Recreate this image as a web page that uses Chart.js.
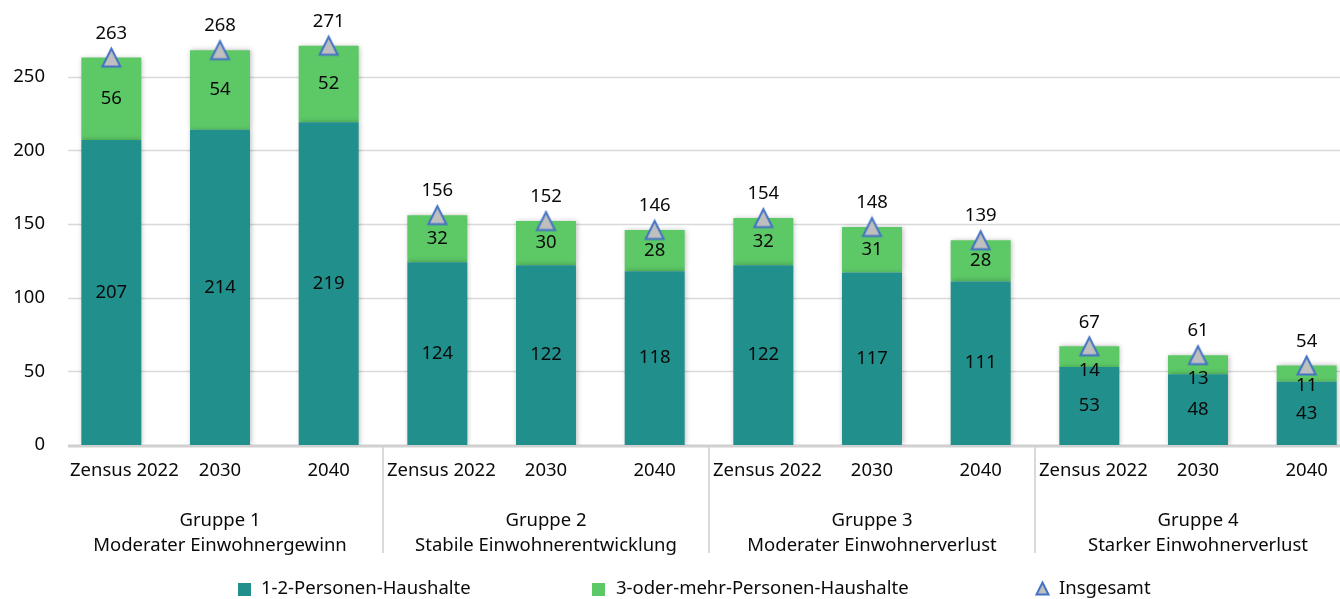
<!DOCTYPE html>
<html>
<head>
<meta charset="utf-8">
<script src="https://cdn.jsdelivr.net/npm/chart.js@4"></script>
<style>
  html, body { margin: 0; padding: 0; background: #fff; overflow: hidden; }
  #wrap { width: 1362px; height: 599px; overflow: hidden; }
  canvas { display: block; }
</style>
</head>
<body>
<div id="wrap"><canvas id="haushalte" width="1362" height="599"></canvas></div>
<script>
// Data
const categories = ["Zensus 2022", "2030", "2040", "Zensus 2022", "2030", "2040",
                    "Zensus 2022", "2030", "2040", "Zensus 2022", "2030", "2040"];
const groups = [
    ["Gruppe 1", "Moderater Einwohnergewinn"],
    ["Gruppe 2", "Stabile Einwohnerentwicklung"],
    ["Gruppe 3", "Moderater Einwohnerverlust"],
    ["Gruppe 4", "Starker Einwohnerverlust"]
];
const smallHouseholds = [207, 214, 219, 124, 122, 118, 122, 117, 111, 53, 48, 43]; // 1-2 Personen
const largeHouseholds = [56, 54, 52, 32, 30, 28, 32, 31, 28, 14, 13, 11];         // 3+ Personen
const totals = [263, 268, 271, 156, 152, 146, 154, 148, 139, 67, 61, 54];
const yTicks = [0, 50, 100, 150, 200, 250];

const TEAL = "#218F8B";
const GREEN = "#5CC866";
const FONT = "18.5px 'Noto Sans'";
const TEXT = "#0a0a0a";
const GRID = "#d9d9d9";

// triangle marker, centred on its bounding box like the original
function makeTriangle(size) {
    let c = document.createElement("canvas");
    c.width = size; c.height = size;
    let g = c.getContext("2d");
    let pad = 2.5;
    g.beginPath();
    g.moveTo(size / 2, pad);
    g.lineTo(size - pad, size - pad);
    g.lineTo(pad, size - pad);
    g.closePath();
    g.fillStyle = "#BFBFBF";
    g.fill();
    g.lineWidth = 2;
    g.strokeStyle = "#4472C4";
    g.lineJoin = "miter";
    g.stroke();
    return c;
}
const triangleMarker = makeTriangle(23);
const triangleLegend = makeTriangle(17);

// grid lines, zero axis and bar shadows
const backgroundPlugin = {
    id: "background",
    beforeDatasetsDraw(chart) {
        let ctx = chart.ctx;
        let y = chart.scales.y;
        ctx.save();
        ctx.strokeStyle = GRID;
        ctx.lineWidth = 1.5;
        yTicks.forEach(v => {
            if (v === 0) return;
            let py = Math.round(y.getPixelForValue(v)) + 0.5;
            ctx.beginPath();
            ctx.moveTo(68, py);
            ctx.lineTo(chart.width, py);
            ctx.stroke();
        });
        ctx.lineWidth = 3;
        ctx.strokeStyle = "#d0d0d0";
        let zy = y.getPixelForValue(0) + 1;
        ctx.beginPath();
        ctx.moveTo(68, zy);
        ctx.lineTo(chart.width, zy);
        ctx.stroke();
        ctx.restore();
    },
    beforeDatasetDraw(chart, args) {
        chart.ctx.save();
        if (args.meta.type === "bar") {
            chart.ctx.shadowColor = "rgba(0,0,0,0.28)";
            chart.ctx.shadowBlur = 5;
            chart.ctx.shadowOffsetX = 1;
        }
    },
    afterDatasetDraw(chart) {
        chart.ctx.restore();
    }
};

// value labels, axis texts, group separators, legend
const labelPlugin = {
    id: "labels",
    afterDraw(chart) {
        let ctx = chart.ctx;
        let yScale = chart.scales.y;
        let bars0 = chart.getDatasetMeta(0).data;
        let bars1 = chart.getDatasetMeta(1).data;
        let points = chart.getDatasetMeta(2).data;
        ctx.save();
        ctx.font = FONT;
        ctx.fillStyle = TEXT;
        ctx.textBaseline = "middle";

        // y tick labels
        ctx.textAlign = "right";
        yTicks.forEach(v => ctx.fillText(String(v), 45, yScale.getPixelForValue(v)));

        // bar values
        ctx.textAlign = "center";
        bars0.forEach((b, i) => {
            ctx.fillText(String(smallHouseholds[i]), b.x, (b.y + b.base) / 2);
        });
        bars1.forEach((b, i) => {
            let h = b.base - b.y;
            let ly = h < 30 ? b.base + 4 : (b.y + b.base) / 2;
            ctx.fillText(String(largeHouseholds[i]), b.x, ly);
        });
        points.forEach((p, i) => {
            ctx.fillText(String(totals[i]), p.x, p.y - 24);
        });

        // category labels
        let catW = bars0.length > 1 ? bars0[1].x - bars0[0].x : 100;
        categories.forEach((c, i) => {
            let x = bars0[i].x;
            let w = ctx.measureText(c).width;
            if (w > catW - 4) {
                let left = Math.max(x - catW / 2, 66) + 4;
                ctx.textAlign = "left";
                ctx.fillText(c, left, 471);
            } else {
                ctx.textAlign = "center";
                ctx.fillText(c, x, 471);
            }
        });

        // group labels and separators
        ctx.textAlign = "center";
        groups.forEach((g, gi) => {
            let mid = bars0[gi * 3 + 1].x;
            ctx.fillText(g[0], mid, 521);
            ctx.fillText(g[1], mid, 546);
            if (gi > 0) {
                let sx = Math.round((bars0[gi * 3 - 1].x + bars0[gi * 3].x) / 2);
                ctx.strokeStyle = GRID;
                ctx.lineWidth = 2;
                ctx.beginPath();
                ctx.moveTo(sx, 447);
                ctx.lineTo(sx, 553);
                ctx.stroke();
            }
        });

        // legend
        ctx.textAlign = "left";
        let ly = 589;
        ctx.fillStyle = TEAL;
        ctx.fillRect(238, ly - 6, 13, 13);
        ctx.fillStyle = GREEN;
        ctx.fillRect(592, ly - 6, 13, 13);
        ctx.drawImage(triangleLegend, 1034, ly - 9);
        ctx.fillStyle = TEXT;
        ctx.fillText("1-2-Personen-Haushalte", 261, ly);
        ctx.fillText("3-oder-mehr-Personen-Haushalte", 616, ly);
        ctx.fillText("Insgesamt", 1059, ly);
        ctx.restore();
    }
};

let chart = new Chart(document.getElementById("haushalte").getContext("2d"), {
    data: {
        labels: categories,
        datasets: [
            {
                type: "bar",
                label: "1-2-Personen-Haushalte",
                data: smallHouseholds,
                backgroundColor: TEAL,
                stack: "hh",
                order: 1,
                categoryPercentage: 1,
                barPercentage: 0.552
            },
            {
                type: "bar",
                label: "3-oder-mehr-Personen-Haushalte",
                data: largeHouseholds,
                backgroundColor: GREEN,
                stack: "hh",
                order: 1,
                categoryPercentage: 1,
                barPercentage: 0.552
            },
            {
                type: "line",
                label: "Insgesamt",
                data: totals,
                showLine: false,
                pointStyle: triangleMarker,
                pointRadius: 11,
                order: 0
            }
        ]
    },
    options: {
        responsive: false,
        animation: false,
        layout: { autoPadding: false, padding: { left: 57, right: 1, top: 3, bottom: 154 } },
        scales: {
            x: { display: false, stacked: true, offset: true },
            y: { display: false, stacked: true, min: 0, max: 300 }
        },
        plugins: {
            legend: { display: false },
            tooltip: { enabled: false }
        }
    },
    plugins: [backgroundPlugin, labelPlugin]
});
</script>
</body>
</html>
